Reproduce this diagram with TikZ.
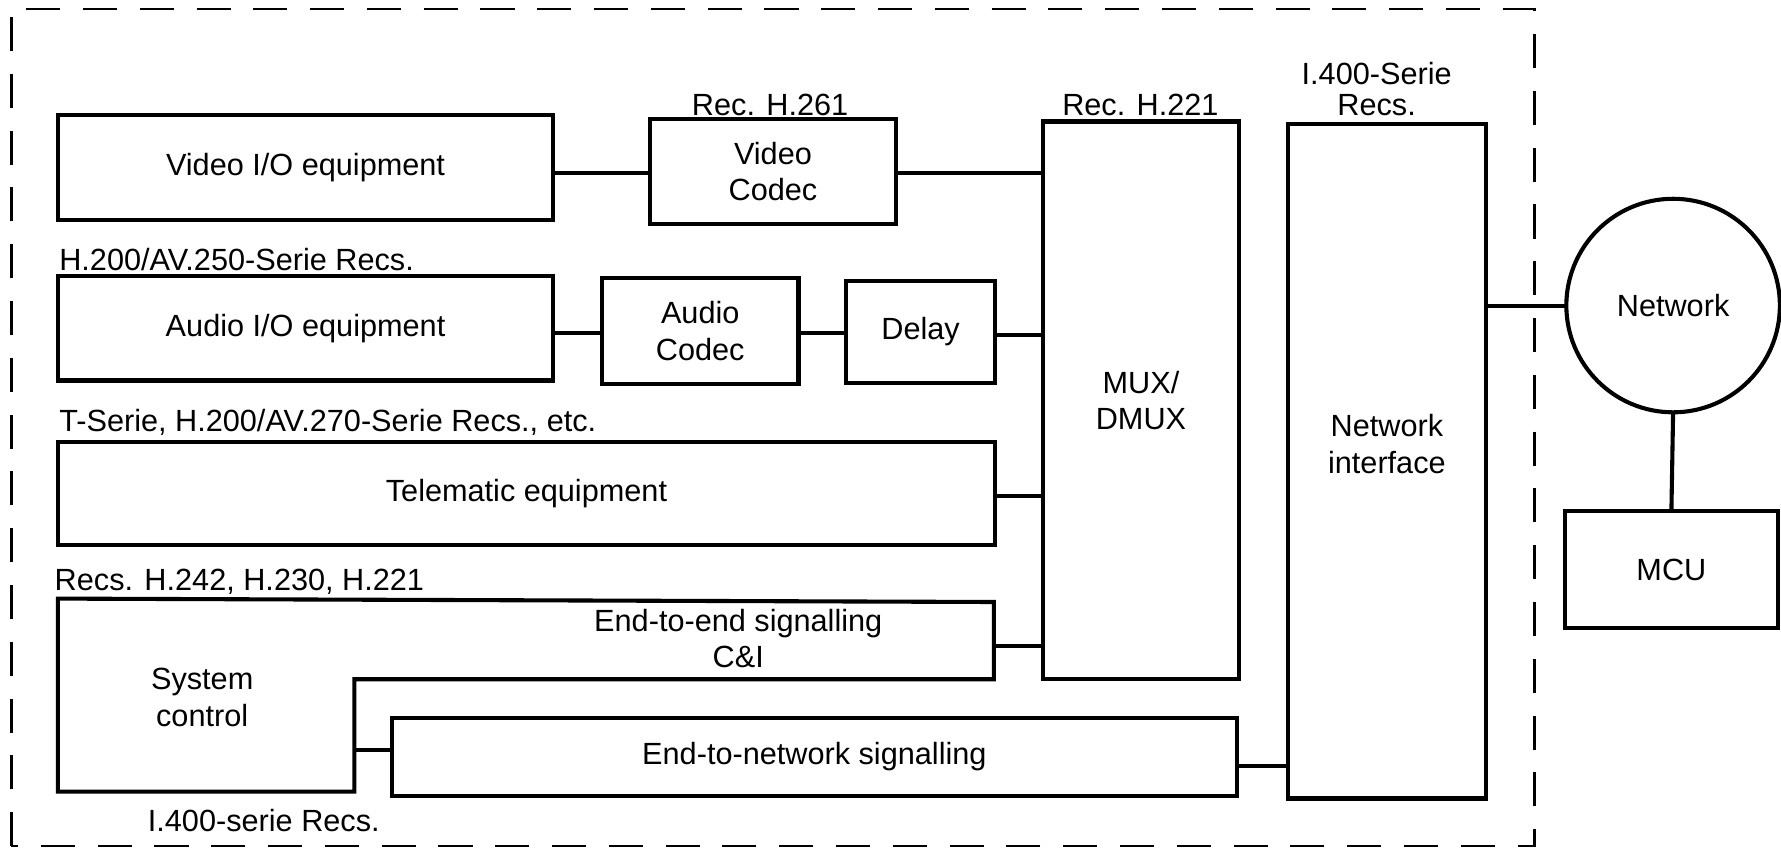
\documentclass[tikz,border=0pt]{standalone}
\usepackage{fontspec}
\setmainfont{Liberation Sans}
\newcommand\dfont{\fontsize{27}{32}\selectfont}
\begin{document}
\begin{tikzpicture}[x=1pt,y=-1pt,
  box/.style={draw, line width=3.6pt, rectangle, inner sep=0pt, outer sep=0pt, align=center, font=\dfont},
  txt/.style={inner sep=0pt, align=center, font=\dfont},
  lbl/.style={inner sep=0pt, font=\dfont, anchor=base west},
  clbl/.style={inner sep=0pt, font=\dfont, anchor=base},
  conn/.style={line width=3.6pt},
  border/.style={line width=2.2pt, dash pattern=on 30pt off 20pt}]
\useasboundingbox[fill=white] (0,0) rectangle (1568,755);
% dashed border
\draw[border] (10,745) -- (10,8) -- (1351,8) -- (1351,745) -- cycle;
% boxes
\node[box, minimum width=436pt, minimum height=93pt] (vio) at (269,147.5) {Video I/O equipment};
\node[box, minimum width=217pt, minimum height=92pt] (vc) at (680.5,151) {Video\\Codec};
\node[box, minimum width=436pt, minimum height=92pt] (aio) at (269,289) {Audio I/O equipment};
\node[box, minimum width=173pt, minimum height=93pt] (ac) at (616.5,291.5) {Audio\\Codec};
\node[box, minimum width=131pt, minimum height=90pt] (dl) at (810.5,292) {Delay};
\node[box, minimum width=825pt, minimum height=91pt] (tel) at (463.5,434.5) {Telematic equipment};
\node[box, minimum width=173pt, minimum height=491pt] (mux) at (1004.5,352.5) {MUX/\\DMUX};
\node[box, minimum width=174pt, minimum height=594pt] (ni) at (1221,406) {};
\node[txt] (nitxt) at (1221,391) {Network\\interface};
\node[box, minimum width=744pt, minimum height=69pt] (e2n) at (717,666.5) {End-to-network signalling};
\node[box, circle, minimum size=188pt] (net) at (1473,269) {Network};
\node[box, minimum width=187pt, minimum height=103pt] (mcu) at (1471.5,501.5) {MCU};
% system control shape
\draw[line width=3.6pt, line join=miter] (51,527) -- (875,530) -- (875,598) -- (312,598) -- (312,697) -- (51,697) -- cycle;
\node[txt] (sctxt) at (178,614) {System\\control};
\node[txt] (e2etxt) at (650,562) {End-to-end signalling\\C\&I};
\coordinate (e2eR) at (875,569);
\coordinate (scR) at (312,660);
% y levels
\coordinate (yV) at (0,152);
\coordinate (yA) at (0,293);
\coordinate (yD) at (0,295);
\coordinate (yT) at (0,437);
\coordinate (yE) at (0,674);
% labels
\node[clbl] (lh261) at (678,102) {Rec. H.261};
\node[clbl] (lh221) at (1004,102) {Rec. H.221};
\node[clbl] (li400a) at (1212,74) {I.400-Serie};
\node[clbl] (li400b) at (1212,102) {Recs.};
\node[lbl] (lav250) at (52,238) {H.200/AV.250-Serie Recs.};
\node[lbl] (lav270) at (52,380) {T-Serie, H.200/AV.270-Serie Recs., etc.};
\node[lbl] (lh242) at (48,520) {Recs. H.242, H.230, H.221};
\node[lbl] (li400c) at (130,732) {I.400-serie Recs.};
% connectors
\draw[conn] (vio.east |- yV) -- (vc.west |- yV);
\draw[conn] (vc.east |- yV) -- (mux.west |- yV);
\draw[conn] (aio.east |- yA) -- (ac.west |- yA);
\draw[conn] (ac.east |- yA) -- (dl.west |- yA);
\draw[conn] (dl.east |- yD) -- (mux.west |- yD);
\draw[conn] (tel.east |- yT) -- (mux.west |- yT);
\draw[conn] (e2eR) -- (mux.west |- e2eR);
\draw[conn] (scR) -- (e2n.west |- scR);
\draw[conn] (e2n.east |- yE) -- (ni.west |- yE);
\draw[conn] (ni.east |- net.west) -- (net.west);
\draw[conn] (net.south) -- (mcu.north);
\end{tikzpicture}
\end{document}
